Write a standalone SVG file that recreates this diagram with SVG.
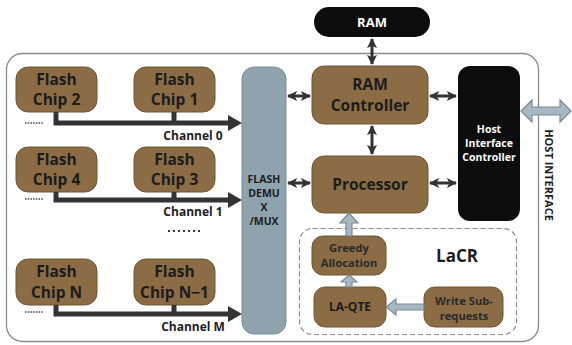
<svg xmlns="http://www.w3.org/2000/svg" width="572" height="345" viewBox="0 0 572 345">
<defs>
<style>
.brown{fill:#8b6c45;stroke:#6f5534;stroke-width:1}
.t{font-family:"Open Sans","Liberation Sans",sans-serif;font-weight:bold;text-anchor:middle;fill:#1c1c1c}
.big{font-size:15.5px}
.ch{font-size:12px;fill:#222}
.mid{font-size:11.2px;fill:#2a2a2a}
.w{fill:#fff}
.bus{stroke:#333;stroke-width:5;fill:none}
.dbl{stroke:#333;stroke-width:3;fill:none}
.hol{fill:#a8b8c2;stroke:#788a95;stroke-width:1.2}
.dots{stroke:#444;stroke-width:1.5;stroke-dasharray:1.5 1.2;fill:none}
</style>
<marker id="ah" viewBox="0 0 10 10" refX="9" refY="5" markerWidth="3.4" markerHeight="3.6" orient="auto-start-reverse" markerUnits="strokeWidth"><path d="M0,0 L10,5 L0,10 L2.5,5 Z" fill="#333"/></marker>
</defs>
<rect width="572" height="345" fill="#fff"/>
<rect x="6.5" y="53.5" width="532" height="288" rx="16" fill="none" stroke="#8a8a8a" stroke-width="1.3"/>

<g id="ram"><rect x="314" y="7" width="116" height="30" rx="15" fill="#0d0d0d"/><text class="t w" x="372" y="27" font-size="13">RAM</text></g>

<g id="ram-controller"><rect class="brown" x="312" y="66" width="116" height="58" rx="12"/><text class="t big" x="370" y="90">RAM</text><text class="t big" x="370" y="111">Controller</text></g>

<g id="processor"><rect class="brown" x="312" y="156" width="116" height="57" rx="12"/><text class="t big" x="370" y="190">Processor</text></g>

<g id="host-interface-controller"><rect x="458" y="66" width="62" height="155" rx="12" fill="#0d0d0d"/><text class="t w" x="489" y="133" font-size="10.5">Host</text><text class="t w" x="489" y="147" font-size="10.5">Interface</text><text class="t w" x="489" y="161" font-size="10.5">Controller</text></g>

<g id="flash-demux"><rect x="242" y="67" width="44" height="267" rx="12" fill="#8fa3ae" stroke="#7a8d97"/><text class="t" x="264" y="183" font-size="10.5">FLASH</text><text class="t" x="264" y="197" font-size="10.5">DEMU</text><text class="t" x="264" y="211" font-size="10.5">X</text><text class="t" x="264" y="225" font-size="10.5">/MUX</text></g>

<g id="chip2"><rect class="brown" x="16" y="67" width="81" height="45" rx="12"/><text class="t big" x="56.5" y="85">Flash</text><text class="t big" x="56.5" y="105">Chip 2</text></g>
<g id="chip1"><rect class="brown" x="134" y="67" width="81" height="45" rx="12"/><text class="t big" x="174.5" y="85">Flash</text><text class="t big" x="174.5" y="105">Chip 1</text></g>
<g id="chip4"><rect class="brown" x="16" y="147" width="81" height="45" rx="12"/><text class="t big" x="56.5" y="165">Flash</text><text class="t big" x="56.5" y="185">Chip 4</text></g>
<g id="chip3"><rect class="brown" x="134" y="147" width="81" height="45" rx="12"/><text class="t big" x="174.5" y="165">Flash</text><text class="t big" x="174.5" y="185">Chip 3</text></g>
<g id="chipN"><rect class="brown" x="16" y="259" width="81" height="46" rx="12"/><text class="t big" x="56.5" y="277">Flash</text><text class="t big" x="56.5" y="298">Chip  N</text></g>
<g id="chipN-1"><rect class="brown" x="134" y="259" width="81" height="46" rx="12"/><text class="t big" x="174.5" y="277">Flash</text><text class="t big" x="174.5" y="298">Chip N−1</text></g>

<g id="lacr"><rect x="299.5" y="228.5" width="217" height="106" rx="13" fill="none" stroke="#888" stroke-width="1.2" stroke-dasharray="5 3"/><text class="t" x="457" y="262" font-size="17">LaCR</text></g>
<g id="greedy"><rect class="brown" x="312" y="236" width="74" height="39" rx="11"/><text class="t mid" x="349" y="251.5">Greedy</text><text class="t mid" x="349" y="267">Allocation</text></g>
<g id="la-qte"><rect class="brown" x="314" y="287" width="72" height="40" rx="11"/><text class="t" x="350" y="311" font-size="12" fill="#000">LA-QTE</text></g>
<g id="write-sub"><rect class="brown" x="424" y="287" width="79" height="40" rx="11"/><text class="t mid" x="464" y="304.5">Write Sub-</text><text class="t mid" x="464" y="320">requests</text></g>

<g id="connectors">
<path class="bus" d="M56,112 V123 H230 M174,112 V123"/><path d="M228,115 L242,123 L228,131 Z" fill="#333"/>
<path class="bus" d="M56,192 V200 H230 M174,192 V200"/><path d="M228,192 L242,200 L228,208 Z" fill="#333"/>
<path class="bus" d="M56,305 V314 H230 M174,305 V314"/><path d="M228,306 L242,314 L228,322 Z" fill="#333"/>
<path class="dots" d="M25,123 H43 M25,199 H44 M25,312 H43"/>
<path d="M168,231 H200" stroke="#333" stroke-width="2.2" stroke-dasharray="2 3" fill="none"/>
<text class="t ch" x="193" y="140">Channel 0</text>
<text class="t ch" x="193" y="216">Channel 1</text>
<text class="t ch" x="193" y="331">Channel M</text>

<line class="dbl" x1="288" y1="96" x2="310" y2="96" marker-start="url(#ah)" marker-end="url(#ah)"/>
<line class="dbl" x1="288" y1="183" x2="310" y2="183" marker-start="url(#ah)" marker-end="url(#ah)"/>
<line class="dbl" x1="430" y1="96" x2="456" y2="96" marker-start="url(#ah)" marker-end="url(#ah)"/>
<line class="dbl" x1="430" y1="183" x2="456" y2="183" marker-start="url(#ah)" marker-end="url(#ah)"/>
<line class="dbl" x1="372" y1="39" x2="372" y2="64" marker-start="url(#ah)" marker-end="url(#ah)"/>
<line class="dbl" x1="372" y1="126" x2="372" y2="154" marker-start="url(#ah)" marker-end="url(#ah)"/>

<path class="hol" d="M521,111 L532,100 V107 H560 V100 L571,111 L560,122 V115 H532 V122 Z"/>
<path class="hol" d="M349,213 L358,223 H352 V236 H346 V223 H340 Z"/>
<path class="hol" d="M349,275 L357,282 H352 V287 H346 V282 H341 Z"/>
<path class="hol" d="M386,307 L396,299 V304 H424 V310 H396 V315 Z"/>
</g>
<text class="t" font-size="11" transform="translate(549,175) rotate(90)" y="4">HOST INTERFACE</text>
</svg>
